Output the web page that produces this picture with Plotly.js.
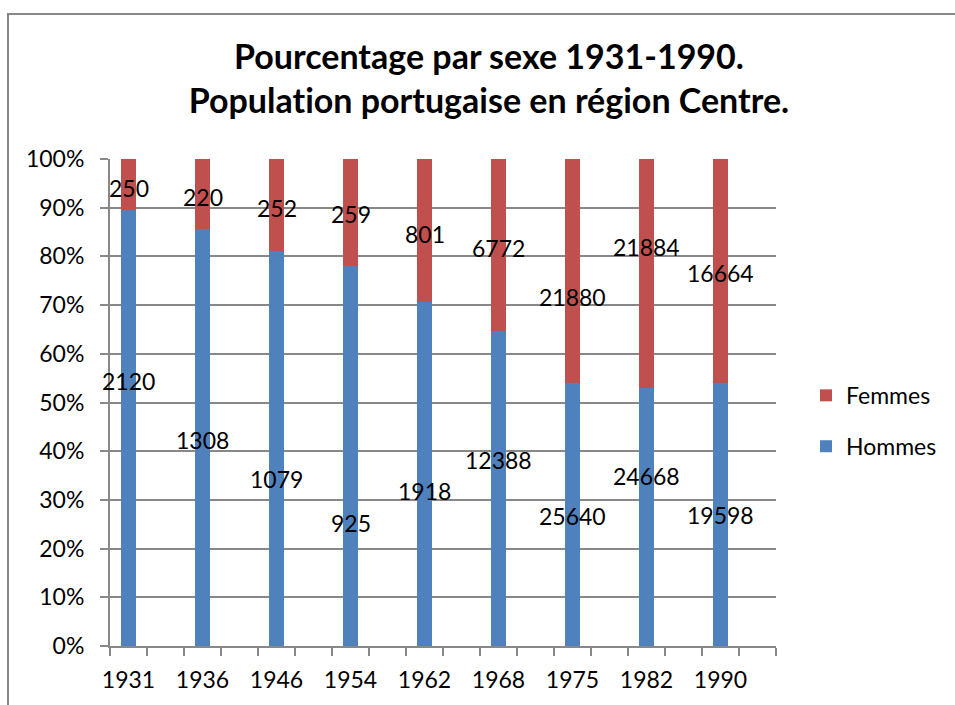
<!DOCTYPE html>
<html>
<head>
<meta charset="utf-8">
<script src="https://cdn.plot.ly/plotly-3.0.1.min.js"></script>
<style>
  html, body { margin: 0; padding: 0; width: 955px; height: 705px; overflow: hidden; background: #fff; }
  #frame { position: absolute; left: 7px; top: 13px; width: 1100px; height: 900px; border: 2px solid #888888; box-sizing: border-box; }
  #chart { position: absolute; left: 0; top: 0; width: 955px; height: 705px; }
  #chart text { font-variant-ligatures: none; font-feature-settings: "liga" 0, "clig" 0; }
  #dbg { position: absolute; left: 20px; top: 680px; font: 10px sans-serif; color: #c00; }
</style>
</head>
<body>
<div id="frame"></div>
<div id="chart"></div>
<div id="dbg"></div>
<script>
// ---- data ----
var years = ['1931', '1936', '1946', '1954', '1962', '1968', '1975', '1982', '1990'];
var hommes = [2120, 1308, 1079, 925, 1918, 12388, 25640, 24668, 19598];
var femmes = [250, 220, 252, 259, 801, 6772, 21880, 21884, 16664];

// label placement (in % of the axis), as moved by hand in the original chart
var hommesLabelPos = [54.5, 42.4, 34.2, 25.3, 31.8, 38.1, 26.6, 35.0, 26.8];
var femmesLabelPos = [94.1, 92.3, 90.0, 88.7, 84.6, 81.8, 71.6, 82.0, 76.6];

var blue = '#4F81BD';
var red = '#C0504D';
var font = 'Lato, "Liberation Sans", sans-serif';

// category axis with an empty slot after each year
var cats = [];
years.forEach(function (y, i) { cats.push(y); cats.push(' '.repeat(i + 1)); });

var traces = [
  { type: 'bar', name: 'Hommes', x: years, y: hommes, marker: { color: blue }, legendrank: 2, legendgroup: 'h' },
  { type: 'bar', name: 'Femmes', x: years, y: femmes, marker: { color: red }, legendrank: 1, legendgroup: 'f' }
];

var annotations = [];
years.forEach(function (y, i) {
  var xi = cats.indexOf(y);
  annotations.push({ x: xi, y: hommesLabelPos[i], xref: 'x', yref: 'y', text: String(hommes[i]), showarrow: false, font: { family: font, size: 23, color: '#000' } });
  annotations.push({ x: xi, y: femmesLabelPos[i], xref: 'x', yref: 'y', text: String(femmes[i]), showarrow: false, font: { family: font, size: 23, color: '#000' } });
});

var layout = {
  width: 955, height: 705,
  paper_bgcolor: 'rgba(0,0,0,0)', plot_bgcolor: 'rgba(0,0,0,0)',
  margin: { l: 110, r: 179, t: 159, b: 59 },
  font: { family: font, size: 23, color: '#000' },
  title: {
    text: '<b>Pourcentage par sexe 1931-1990.<br>Population portugaise en région Centre.</b>',
    font: { family: font, size: 34, color: '#000' },
    x: 0.512, xref: 'container', xanchor: 'center',
    y: 0.902, yref: 'container', yanchor: 'middle'
  },
  barmode: 'stack', barnorm: 'percent', bargap: 0.6,
  xaxis: {
    type: 'category', categoryorder: 'array', categoryarray: cats,
    range: [-0.5, cats.length - 0.5], tickangle: 0,
    tickson: 'boundaries', ticks: 'outside', ticklen: 8, tickcolor: '#888888', tickwidth: 2,
    showgrid: false, showline: true, linecolor: '#888888', linewidth: 2,
    ticklabelstandoff: 12, automargin: false,
    tickfont: { family: font, size: 23, color: '#000' }, fixedrange: true
  },
  yaxis: {
    range: [0, 100], dtick: 10, ticksuffix: '%',
    ticks: 'outside', ticklen: 8, tickcolor: '#888888', tickwidth: 2,
    showgrid: true, gridcolor: '#888888', gridwidth: 2,
    showline: true, linecolor: '#888888', linewidth: 2, zeroline: false,
    ticklabelstandoff: 11, automargin: false,
    tickfont: { family: font, size: 23, color: '#000' }, fixedrange: true
  },
  legend: {
    xref: 'container', yref: 'container',
    x: 0.844, xanchor: 'left', y: 0.403, yanchor: 'middle',
    traceorder: 'grouped', tracegroupgap: 18,
    font: { family: font, size: 23, color: '#000' }, bgcolor: 'rgba(0,0,0,0)'
  },
  annotations: annotations
};

Plotly.newPlot('chart', traces, layout, { displayModeBar: false, staticPlot: true }).then(function () {
  document.getElementById('dbg').textContent = '';
}).catch(function (e) {
  document.getElementById('dbg').textContent = 'ERR ' + e;
});
</script>
</body>
</html>
